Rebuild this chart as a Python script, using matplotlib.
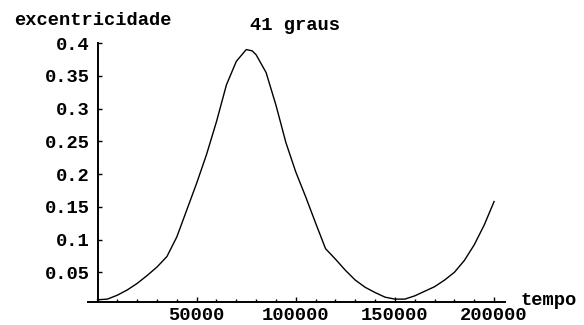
import matplotlib
matplotlib.use("Agg")
import matplotlib.pyplot as plt
from matplotlib.ticker import MultipleLocator, FixedLocator

# tempo vs excentricidade
tempo = [0, 5000, 10000, 15000, 20000, 25000, 30000, 35000, 40000, 45000,
         50000, 55000, 60000, 65000, 70000, 75000, 78000, 80000, 85000, 90000,
         95000, 100000, 105000, 110000, 115000, 120000, 125000, 130000, 135000,
         140000, 145000, 150000, 155000, 160000, 165000, 170000, 175000,
         180000, 185000, 190000, 195000, 200000]
excentricidade = [0.008, 0.009, 0.015, 0.023, 0.033, 0.045, 0.058, 0.074, 0.104, 0.145,
                  0.186, 0.230, 0.280, 0.336, 0.372, 0.390, 0.388, 0.382, 0.355, 0.305,
                  0.248, 0.203, 0.165, 0.125, 0.086, 0.070, 0.053, 0.038, 0.027,
                  0.019, 0.012, 0.009, 0.009, 0.014, 0.021, 0.028, 0.038,
                  0.050, 0.068, 0.092, 0.122, 0.158]

xticks = [50000, 100000, 150000, 200000]
yticks = [0.05, 0.1, 0.15, 0.2, 0.25, 0.3, 0.35, 0.4]
ytick_labels = ["0.05", "0.1", "0.15", "0.2", "0.25", "0.3", "0.35", "0.4"]

titulo = "41 graus"
rotulo_x = "tempo"
rotulo_y = "excentricidade"

W, H = 584, 325
fonte = dict(family=["Liberation Mono", "DejaVu Sans Mono"], weight="semibold", size=13.5)

fig = plt.figure(figsize=(W / 100, H / 100), dpi=100)
ax = fig.add_axes([88 / W, 1 - 302 / H, (505 - 88) / W, (302 - 43) / H])

ax.plot(tempo, excentricidade, color="black", lw=1.0)

y0 = 0.0046
ax.set_xlim(-4800, 205500)
ax.set_ylim(y0, 0.4)

for s in ["top", "right"]:
    ax.spines[s].set_visible(False)
ax.spines["left"].set_position(("data", 0))
ax.spines["left"].set_bounds(y0, 0.4)
for s in ["left", "bottom"]:
    ax.spines[s].set_linewidth(1.4)

ax.xaxis.set_major_locator(FixedLocator(xticks))
ax.xaxis.set_minor_locator(MultipleLocator(10000))
ax.set_xticklabels([str(t) for t in xticks])
ax.set_yticks(yticks)
ax.set_yticklabels(ytick_labels)

ax.tick_params(axis="x", which="major", direction="in", length=3.5, width=1.0, pad=3.5)
ax.tick_params(axis="x", which="minor", direction="in", length=2, width=1.0)
ax.tick_params(axis="y", which="major", direction="in", length=3, width=1.0, pad=5.5)
for lab in ax.get_xticklabels() + ax.get_yticklabels():
    lab.set_fontfamily(fonte["family"])
    lab.set_fontweight(fonte["weight"])
    lab.set_fontsize(fonte["size"])

fig.text(14 / W, 1 - 25 / H, rotulo_y, ha="left", va="baseline", **fonte)
fig.text(295 / W, 1 - 30 / H, titulo, ha="center", va="baseline", **fonte)
fig.text(520 / W, 1 - 305 / H, rotulo_x, ha="left", va="baseline", **fonte)

fig.savefig("out.png", dpi=100)
